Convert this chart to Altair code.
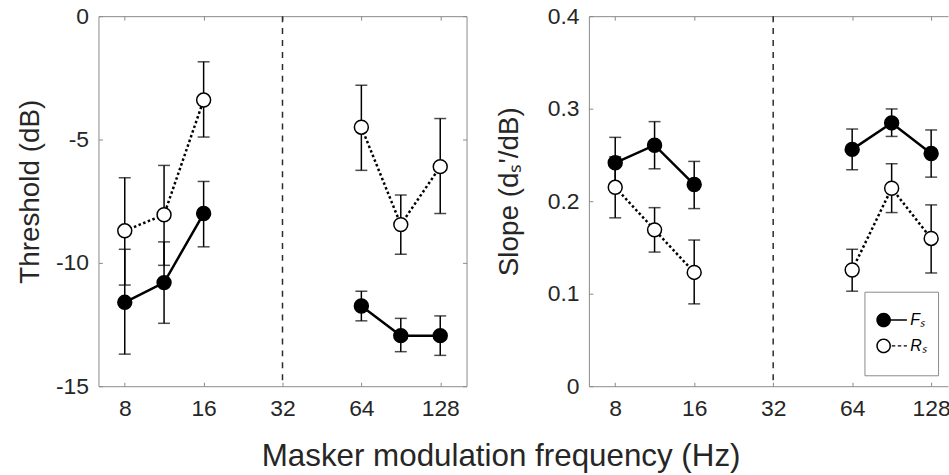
import altair as alt
import pandas as pd

# ---------------- data ----------------
FREQ = [8, 11.3, 16, 64, 90.5, 128]
BAND = ["low", "low", "low", "high", "high", "high"]
SERIES = ["Fₛ", "Rₛ"]
DIVIDER = [32]
X_TICKS = [8, 16, 32, 64, 128]
THR_TICKS = [-15, -10, -5, 0]
SLOPE_TICKS = [0, 0.1, 0.2, 0.3, 0.4]

THR_FS = [-11.6, -10.8, -8.0, -11.75, -12.95, -12.95]
THR_FS_LO = [-13.7, -12.45, -9.35, -12.35, -13.6, -13.75]
THR_FS_HI = [-9.45, -9.15, -6.7, -11.15, -12.25, -12.15]
THR_RS = [-8.7, -8.05, -3.4, -4.5, -8.45, -6.1]
THR_RS_LO = [-10.9, -10.1, -4.9, -6.25, -9.65, -8.0]
THR_RS_HI = [-6.55, -6.05, -1.85, -2.8, -7.25, -4.15]

SLOPE_FS = [0.2415, 0.2605, 0.218, 0.256, 0.2846, 0.2516]
SLOPE_FS_LO = [0.214, 0.235, 0.192, 0.234, 0.270, 0.226]
SLOPE_FS_HI = [0.269, 0.286, 0.243, 0.278, 0.2997, 0.277]
SLOPE_RS = [0.215, 0.169, 0.123, 0.1256, 0.214, 0.1597]
SLOPE_RS_LO = [0.182, 0.145, 0.089, 0.1027, 0.1877, 0.1224]
SLOPE_RS_HI = [0.248, 0.193, 0.158, 0.148, 0.2405, 0.196]

# ---------------- styling ----------------
H = 372
W_LEFT = 370
W_RIGHT = 361            # right panel is cut off by the page edge in the reference
X_DOM_LEFT = [6.35, 161.3]
X_DOM_RIGHT = [6.35, 148.4]
FONT = "Liberation Sans"
TXT = "#262626"
FRAME = "#8a8a8a"

# legend symbols (unit coordinates, filled shapes only): marker + line sample
PATH_F = ("M-0.946,0A0.42,0.42,0,1,1,-0.106,0A0.42,0.42,0,1,1,-0.946,0Z "
          "M-0.171,-0.04L0.811,-0.04L0.811,0.04L-0.171,0.04Z")
PATH_R = ("M-0.946,0A0.42,0.42,0,1,1,-0.106,0A0.42,0.42,0,1,1,-0.946,0Z "
          "M-0.86,0A0.334,0.334,0,1,0,-0.192,0A0.334,0.334,0,1,0,-0.86,0Z "
          "M-0.057,-0.04L0.143,-0.04L0.143,0.04L-0.057,0.04Z "
          "M0.286,-0.04L0.486,-0.04L0.486,0.04L0.286,0.04Z "
          "M0.629,-0.04L0.811,-0.04L0.811,0.04L0.629,0.04Z "
          "M0,1.046L0,1.046")


def build(fs, fs_lo, fs_hi, rs, rs_lo, rs_hi):
    rows, caps = [], []
    for s, (m, lo, hi) in zip(SERIES, [(fs, fs_lo, fs_hi), (rs, rs_lo, rs_hi)]):
        for i, f in enumerate(FREQ):
            rows.append({"freq": f, "band": BAND[i], "series": s,
                         "val": m[i], "lo": lo[i], "hi": hi[i]})
            caps.append({"freq": f, "series": s, "cap": lo[i]})
            caps.append({"freq": f, "series": s, "cap": hi[i]})
    return pd.DataFrame(rows), pd.DataFrame(caps)


def panel(df, caps, W, xdom, ydom, yticks, ytitle, title_pad, cut=False):
    xs = alt.Scale(type="log", base=2, domain=xdom, nice=False)
    ys = alt.Scale(domain=ydom, nice=False, zero=False)
    dom = dict(domain=cut, domainColor=FRAME, domainWidth=1)
    tick_common = dict(labels=False, grid=False, ticks=True,
                       tickSize=4, tickColor=FRAME, tickWidth=1, title=None)
    ax_x_main = alt.Axis(orient="bottom", values=X_TICKS, labelExpr="'' + datum.value",
                         ticks=False, grid=False, title=None, **dom,
                         labelFont=FONT, labelFontSize=23, labelColor=TXT,
                         labelPadding=11, labelFlush=False)
    ax_x_in_b = alt.Axis(orient="top", offset=-H, values=X_TICKS, domain=False, **tick_common)
    ax_x_in_t = alt.Axis(orient="bottom", offset=-H, values=X_TICKS, **dom, **tick_common)
    ax_y_main = alt.Axis(orient="left", values=yticks, labelExpr="'' + datum.value",
                         ticks=False, grid=False, title=ytitle, **dom,
                         titleFont=FONT, titleFontSize=28, titleFontWeight="normal",
                         titleColor=TXT, titlePadding=title_pad, titleY=176,
                         labelFont=FONT, labelFontSize=23, labelColor=TXT,
                         labelPadding=10, labelFlush=False)
    ax_y_in_l = alt.Axis(orient="right", offset=-W, values=yticks, domain=False, **tick_common)
    ax_y_in_r = None if cut else alt.Axis(orient="left", offset=-W, values=yticks,
                                         domain=False, **tick_common)

    def ex(axis):
        return alt.X("freq:Q", scale=xs, axis=axis)

    layers = [
        alt.Chart(pd.DataFrame({"freq": DIVIDER}))
        .mark_rule(color="#2b2b2b", strokeWidth=1.5, strokeDash=[6, 6])
        .encode(x=ex(None))
    ]
    for k, s in enumerate(SERIES):
        d = df[df.series == s]
        c = caps[caps.series == s]
        first = k == 0
        stems = alt.Chart(d).mark_rule(color="black", strokeWidth=1.5).encode(
            x=ex(ax_x_main if first else None),
            y=alt.Y("lo:Q", scale=ys, axis=ax_y_main if first else None),
            y2="hi:Q",
        )
        capm = alt.Chart(c).mark_tick(orient="horizontal", size=12, thickness=1.5,
                                      color="black").encode(
            x=ex(ax_x_in_b if first else None),
            y=alt.Y("cap:Q", scale=ys, axis=ax_y_in_l if first else None),
        )
        line_kw = dict(color="black", strokeWidth=2.5)
        if not first:
            line_kw["strokeDash"] = [2.5, 2.5]
        line = alt.Chart(d).mark_line(**line_kw).encode(
            x=ex(None), y=alt.Y("val:Q", scale=ys, axis=None), detail="band:N"
        )
        pts = alt.Chart(d).mark_point(
            shape="circle", filled=True, size=196, opacity=1,
            fill="black" if first else "white", stroke="black", strokeWidth=1.5,
        ).encode(
            x=ex(ax_x_in_t if first else None),
            y=alt.Y("val:Q", scale=ys, axis=ax_y_in_r if first else None),
        )
        layers += [stems, capm, line, pts]

    if cut:
        leg = alt.Legend(orient="none", legendX=277, legendY=277, title=None,
                         padding=11, strokeColor=FRAME, fillColor="white",
                         cornerRadius=0, symbolSize=1225, symbolFillColor="black",
                         symbolStrokeWidth=0, symbolOpacity=1, labelFont=FONT,
                         labelFontSize=16, labelFontStyle="italic", labelColor="black",
                         labelOffset=0, rowPadding=-2.5, labelLimit=200)
        hidden = alt.Chart(df).mark_point(filled=True, opacity=0, size=196,
                                          color="black").encode(
            x=ex(None),
            y=alt.Y("val:Q", scale=ys, axis=None),
            shape=alt.Shape("series:N",
                            scale=alt.Scale(domain=SERIES, range=[PATH_F, PATH_R]),
                            legend=leg),
        )
        layers.append(hidden)

    ch = (alt.layer(*layers)
          .resolve_axis(x="independent", y="independent")
          .properties(width=W, height=H))
    if cut:
        ch = ch.properties(view=alt.ViewBackground(stroke=None))
    return ch


thr_df, thr_caps = build(THR_FS, THR_FS_LO, THR_FS_HI, THR_RS, THR_RS_LO, THR_RS_HI)
slp_df, slp_caps = build(SLOPE_FS, SLOPE_FS_LO, SLOPE_FS_HI, SLOPE_RS, SLOPE_RS_LO, SLOPE_RS_HI)

left = panel(thr_df, thr_caps, W_LEFT, X_DOM_LEFT, [-15, 0], THR_TICKS,
             "Threshold (dB)", 11)
right = panel(slp_df, slp_caps, W_RIGHT, X_DOM_RIGHT, [0, 0.4], SLOPE_TICKS,
              "Slope (dₛ'/dB)", 24, cut=True)

chart = (
    alt.hconcat(left, right, spacing=28)
    .resolve_scale(shape="independent")
    .properties(
        title=alt.TitleParams(
            "Masker modulation frequency (Hz)", orient="bottom", anchor="middle",
            font=FONT, fontSize=31.5, fontWeight="normal", color=TXT, offset=21, dx=18,
        ),
        padding={"left": 16, "top": 3, "right": -2, "bottom": -1},
        background="white",
    )
    .configure(font=FONT)
    .configure_view(stroke=FRAME, strokeWidth=1)
)

chart.save("out.html", embed_options={"renderer": "svg", "actions": False})
